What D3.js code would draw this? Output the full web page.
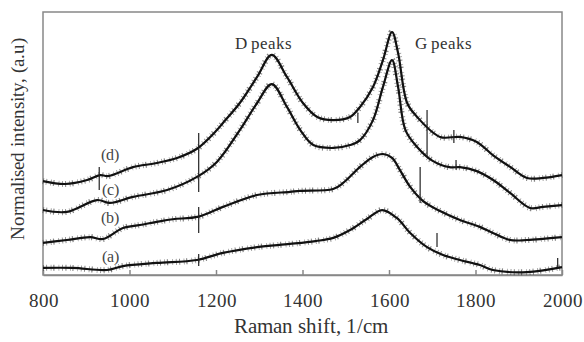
<!DOCTYPE html>
<html>
<head>
<meta charset="utf-8">
<script src="https://cdn.jsdelivr.net/npm/d3@7"></script>
<style>
  @font-face { font-family: 'ChartSerif'; src: local('Liberation Serif'), local('LiberationSerif'), local('LiberationSerif-Regular'); }
</style>
</head>
<body style="margin:0">
<script>
const chartWidth = 584;
const chartHeight = 342;
const margin = {top: 12, right: 22, bottom: 67, left: 43};
const serifFont = "ChartSerif, 'Liberation Serif', serif";

// Raman shift (1/cm) and normalised intensity (a.u.)
const spectrumD = [[800,3.57],[851,3.46],[902,3.61],[932,3.80],[950,3.76],[1008,4.10],[1060,4.25],[1110,4.45],[1156,4.80],[1202,5.51],[1216,5.78],[1255,6.54],[1295,7.53],[1329,8.37],[1364,7.53],[1401,6.54],[1434,6.01],[1471,5.89],[1510,6.01],[1533,6.39],[1563,7.15],[1586,8.17],[1607,9.24],[1621,8.44],[1642,6.54],[1665,6.01],[1718,5.25],[1764,5.25],[1803,5.06],[1840,4.56],[1880,4.11],[1919,3.69],[1956,3.69],[2000,3.80]];
const spectrumC = [[800,2.47],[855,2.40],[925,2.85],[955,2.74],[1008,2.97],[1087,3.23],[1156,3.73],[1202,4.30],[1255,5.51],[1295,6.54],[1329,7.26],[1364,6.39],[1395,5.51],[1425,4.94],[1471,4.83],[1510,4.94],[1533,5.13],[1563,5.89],[1586,7.15],[1607,8.17],[1621,7.15],[1638,5.51],[1665,4.87],[1700,4.35],[1740,4.10],[1764,4.10],[1803,3.95],[1840,3.62],[1880,3.12],[1926,2.55],[1956,2.59],[2000,2.66]];
const spectrumB = [[800,1.22],[855,1.33],[909,1.44],[939,1.37],[985,1.79],[1024,1.90],[1063,2.02],[1100,2.12],[1160,2.22],[1216,2.59],[1295,3.04],[1371,3.16],[1394,3.20],[1471,3.27],[1494,3.50],[1533,4.11],[1563,4.49],[1586,4.60],[1607,4.45],[1625,4.00],[1649,3.35],[1679,2.81],[1718,2.43],[1764,2.09],[1810,1.83],[1840,1.60],[1880,1.33],[1919,1.33],[2000,1.44]];
const spectrumA = [[800,0.27],[869,0.27],[948,0.19],[985,0.34],[1063,0.46],[1156,0.57],[1216,0.84],[1295,1.06],[1371,1.18],[1430,1.29],[1471,1.41],[1510,1.71],[1549,2.13],[1584,2.47],[1618,2.17],[1649,1.60],[1688,1.06],[1725,0.76],[1764,0.57],[1810,0.38],[1840,0.19],[1919,0.11],[2000,0.30]];

// narrow spikes: [shift, low, high]
const spikes = [[930,3.23,4.11],[1160,3.16,5.40],[1160,1.60,2.59],[1160,0.34,0.80],[1528,5.78,6.16],[1688,4.49,6.27],[1672,2.74,4.11],[1711,1.06,1.60],[1750,5.02,5.51],[1755,4.00,4.37],[1990,0.30,0.65]];

const seriesLabels = ['(a)', '(b)', '(c)', '(d)'];
const labelPositions = [[955,0.49], [955,1.98], [955,3.04], [955,4.37]];
const peakLabels = [['D peaks', 1310, 8.6], ['G peaks', 1726, 8.6]];
const xTicks = [800, 1000, 1200, 1400, 1600, 1800, 2000];

const plotWidth = chartWidth - margin.left - margin.right;
const plotHeight = chartHeight - margin.top - margin.bottom;

const xScale = d3.scaleLinear()
                .domain([800, 2000])
                .range([margin.left, margin.left + plotWidth]);

const yScale = d3.scaleLinear()
                .domain([0, 10])
                .range([margin.top + plotHeight, margin.top]);

const svg = d3.select('body')
              .append('svg')
              .attr('width', chartWidth)
              .attr('height', chartHeight)
              .style('font-family', serifFont);

// frame
svg.append('rect')
    .attr('x', margin.left)
    .attr('y', margin.top)
    .attr('width', plotWidth)
    .attr('height', plotHeight)
    .attr('fill', 'none')
    .attr('stroke', '#888')
    .attr('stroke-width', 1.5);

const xAxis = d3.axisBottom()
                .scale(xScale)
                .tickValues(xTicks)
                .tickFormat(d3.format('d'))
                .tickSizeInner(-5)
                .tickSizeOuter(0)
                .tickPadding(19);

const xAxisGroup = svg.append('g')
    .attr('transform', 'translate(0,' + (margin.top + plotHeight) + ')')
    .call(xAxis)
    .attr('font-family', null)
    .attr('font-size', null);
xAxisGroup.select('.domain').attr('stroke', '#888').attr('stroke-width', 1.5);
xAxisGroup.selectAll('.tick line').attr('stroke', '#888').attr('stroke-width', 1.5);
xAxisGroup.selectAll('.tick text')
    .attr('fill', '#333')
    .style('font-family', serifFont)
    .style('font-size', '19px');

const line = d3.line()
               .x(d => xScale(d[0]))
               .y(d => yScale(d[1]))
               .curve(d3.curveCatmullRom.alpha(0.5));

const allSpectra = [spectrumA, spectrumB, spectrumC, spectrumD];

// fuzzy noise look of the measured spectra
svg.selectAll('path.fuzz')
    .data(allSpectra)
    .enter()
    .append('path')
    .attr('class', 'fuzz')
    .attr('d', line)
    .attr('fill', 'none')
    .attr('stroke', '#222')
    .attr('stroke-width', 6)
    .attr('stroke-dasharray', '0.8 2.4 1 3.6 0.7 1.8 1.2 4.2 0.6 2.8')
    .attr('opacity', 0.55);

svg.selectAll('path.spectrum')
    .data(allSpectra)
    .enter()
    .append('path')
    .attr('class', 'spectrum')
    .attr('d', line)
    .attr('fill', 'none')
    .attr('stroke', '#111')
    .attr('stroke-width', 2.2);

svg.selectAll('line.spike')
    .data(spikes)
    .enter()
    .append('line')
    .attr('class', 'spike')
    .attr('x1', d => xScale(d[0]))
    .attr('x2', d => xScale(d[0]))
    .attr('y1', d => yScale(d[1]))
    .attr('y2', d => yScale(d[2]))
    .attr('stroke', '#222')
    .attr('stroke-width', 1.2);

svg.selectAll('text.series')
    .data(seriesLabels)
    .enter()
    .append('text')
    .attr('class', 'series')
    .text(d => d)
    .attr('x', (d, i) => xScale(labelPositions[i][0]))
    .attr('y', (d, i) => yScale(labelPositions[i][1]))
    .attr('text-anchor', 'middle')
    .style('fill', '#444')
    .style('font-family', serifFont)
    .style('font-size', '16px');

svg.selectAll('text.peak')
    .data(peakLabels)
    .enter()
    .append('text')
    .attr('class', 'peak')
    .text(d => d[0])
    .attr('x', d => xScale(d[1]))
    .attr('y', d => yScale(d[2]))
    .attr('text-anchor', 'middle')
    .style('fill', '#333')
    .style('font-family', serifFont)
    .style('font-size', '17px');

svg.append('text')
    .text('Raman shift, 1/cm')
    .attr('x', margin.left + plotWidth / 2 + 8)
    .attr('y', chartHeight - 9)
    .attr('text-anchor', 'middle')
    .style('fill', '#333')
    .style('font-family', serifFont)
    .style('font-size', '21px');

svg.append('text')
    .text('Normalised intensity, (a.u)')
    .attr('transform', 'translate(24,' + (margin.top + 127) + ') rotate(-90)')
    .attr('text-anchor', 'middle')
    .style('fill', '#333')
    .style('font-family', serifFont)
    .style('font-size', '19px');
</script>
</body>
</html>
